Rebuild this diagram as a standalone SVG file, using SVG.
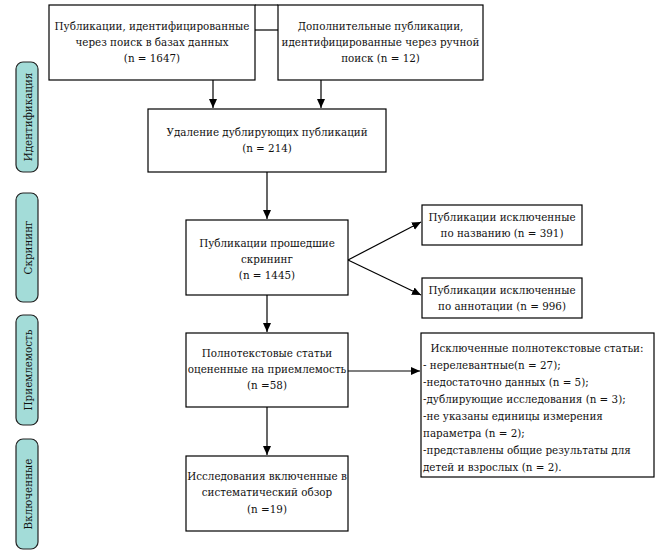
<svg xmlns="http://www.w3.org/2000/svg" width="662" height="559" viewBox="0 0 662 559">
<defs>
<style>
.box{fill:#fff;stroke:#000;stroke-width:1.2}
.side{fill:#a3dcd8;stroke:#222;stroke-width:1.2}
text{font-family:"DejaVu Serif Condensed","DejaVu Serif","Liberation Serif",serif;font-size:11.5px;fill:#111}
.c{text-anchor:middle}
.ln{stroke:#000;stroke-width:1.2;fill:none}
</style>
<marker id="ah" markerWidth="10" markerHeight="10" refX="9" refY="5" orient="auto" markerUnits="userSpaceOnUse">
<path d="M0,1 L9,5 L0,9 Z" fill="#000"/>
</marker>
</defs>
<rect width="662" height="559" fill="#fff"/>

<g id="side-ident"><rect class="side" x="16" y="62" width="22" height="110" rx="7"/><text class="c" transform="translate(31.5,117) rotate(-90)">Идентификация</text></g>
<g id="side-screen"><rect class="side" x="16" y="193" width="22" height="109" rx="7"/><text class="c" transform="translate(31.5,247.5) rotate(-90)">Скрининг</text></g>
<g id="side-elig"><rect class="side" x="16" y="315" width="22" height="110" rx="7"/><text class="c" transform="translate(31.5,370) rotate(-90)">Приемлемость</text></g>
<g id="side-incl"><rect class="side" x="16" y="439" width="22" height="110" rx="7"/><text class="c" transform="translate(31.5,494) rotate(-90)">Включенные</text></g>

<g id="connectors">
<line class="ln" x1="255" y1="5" x2="278" y2="5"/>
<line class="ln" x1="255" y1="30" x2="278" y2="30"/>
<line class="ln" x1="213" y1="80" x2="213" y2="108" marker-end="url(#ah)"/>
<line class="ln" x1="321" y1="80" x2="321" y2="108" marker-end="url(#ah)"/>
<line class="ln" x1="267" y1="172" x2="267" y2="219" marker-end="url(#ah)"/>
<line class="ln" x1="348" y1="260" x2="421" y2="222" marker-end="url(#ah)"/>
<line class="ln" x1="348" y1="260" x2="421" y2="295" marker-end="url(#ah)"/>
<line class="ln" x1="267" y1="295" x2="267" y2="332" marker-end="url(#ah)"/>
<line class="ln" x1="348" y1="371" x2="420" y2="371" marker-end="url(#ah)"/>
<line class="ln" x1="267" y1="407" x2="267" y2="455" marker-end="url(#ah)"/>
</g>

<g id="n1"><rect class="box" x="49" y="5" width="206" height="75"/>
<text class="c" x="152" y="30">Публикации, идентифицированные</text>
<text class="c" x="152" y="46">через поиск в базах данных</text>
<text class="c" x="152" y="62">(n = 1647)</text></g>

<g id="n2"><rect class="box" x="278" y="5" width="205" height="75"/>
<text class="c" x="380.5" y="30">Дополнительные публикации,</text>
<text class="c" x="380.5" y="46">идентифицированные через ручной</text>
<text class="c" x="380.5" y="62">поиск  (n = 12)</text></g>

<g id="n3"><rect class="box" x="148" y="109" width="238" height="63"/>
<text class="c" x="267" y="136">Удаление дублирующих публикаций</text>
<text class="c" x="267" y="152">(n = 214)</text></g>

<g id="n4"><rect class="box" x="186" y="220" width="162" height="75"/>
<text class="c" x="267" y="247">Публикации прошедшие</text>
<text class="c" x="267" y="263">скрининг</text>
<text class="c" x="267" y="279">(n = 1445)</text></g>

<g id="n5"><rect class="box" x="422" y="205" width="160" height="40"/>
<text class="c" x="502" y="221">Публикации исключенные</text>
<text class="c" x="502" y="237">по названию (n = 391)</text></g>

<g id="n6"><rect class="box" x="422" y="278" width="160" height="40"/>
<text class="c" x="502" y="294">Публикации исключенные</text>
<text class="c" x="502" y="310">по аннотации  (n = 996)</text></g>

<g id="n7"><rect class="box" x="186" y="333" width="162" height="74"/>
<text class="c" x="267" y="357">Полнотекстовые статьи</text>
<text class="c" x="267" y="373">оцененные на приемлемость</text>
<text class="c" x="267" y="389">(n =58)</text></g>

<g id="n8"><rect class="box" x="421" y="333" width="233" height="144"/>
<text class="c" x="537" y="352">Исключенные полнотекстовые статьи:</text>
<text x="423" y="369">- нерелевантные(n = 27);</text>
<text x="423" y="386">-недостаточно данных (n = 5);</text>
<text x="423" y="403">-дублирующие исследования  (n = 3);</text>
<text x="423" y="420">-не указаны единицы измерения</text>
<text x="423" y="437">параметра (n = 2);</text>
<text x="423" y="454">-представлены общие результаты для</text>
<text x="423" y="471">детей и взрослых  (n = 2).</text></g>

<g id="n9"><rect class="box" x="186" y="456" width="162" height="75"/>
<text class="c" x="267" y="480">Исследования включенные в</text>
<text class="c" x="267" y="496">систематический обзор</text>
<text class="c" x="267" y="513">(n =19)</text></g>
</svg>
